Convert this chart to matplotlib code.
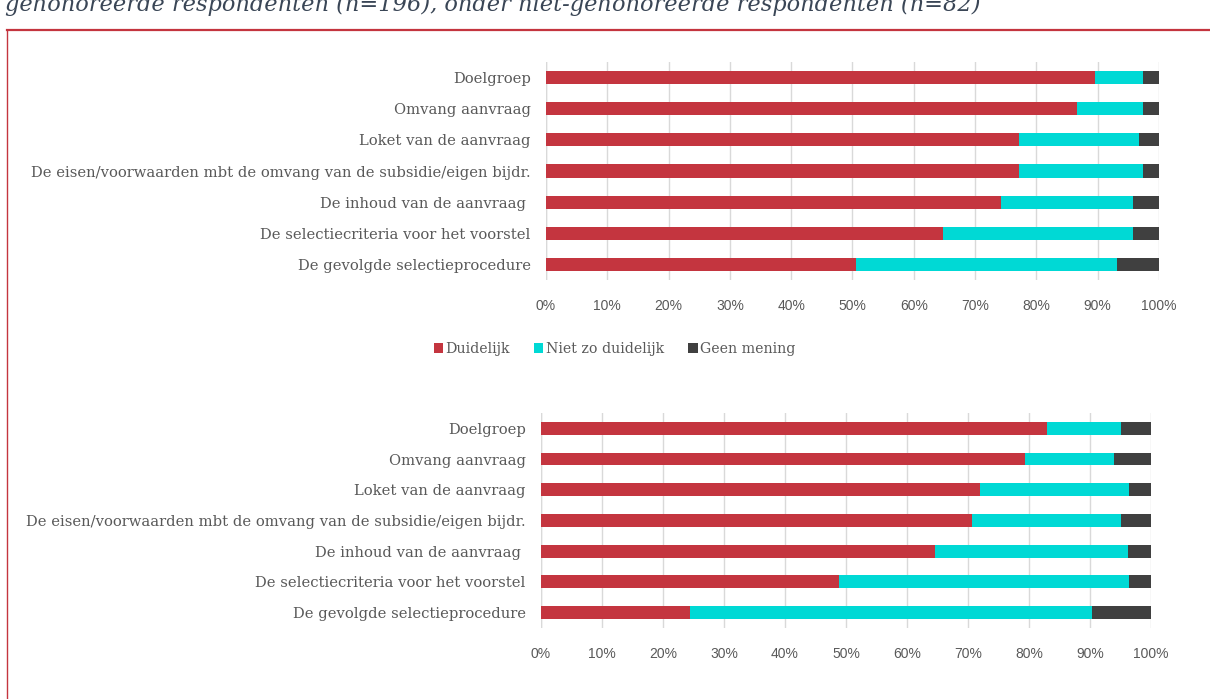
import matplotlib
matplotlib.use("Agg")
import matplotlib.pyplot as plt
from matplotlib.lines import Line2D
from matplotlib.patches import Patch
import numpy as np

categories = [
    "Doelgroep",
    "Omvang aanvraag",
    "Loket van de aanvraag",
    "De eisen/voorwaarden mbt de omvang van de subsidie/eigen bijdr.",
    "De inhoud van de aanvraag ",
    "De selectiecriteria voor het voorstel",
    "De gevolgde selectieprocedure",
]
series_names = ["Duidelijk", "Niet zo duidelijk", "Geen mening"]

# top chart: gehonoreerde respondenten (n=196), percentages
top_duidelijk = [89.5, 86.7, 77.2, 77.2, 74.2, 64.8, 50.5]
top_niet = [7.9, 10.7, 19.5, 20.2, 21.6, 31.0, 42.6]
top_geen = [2.6, 2.6, 3.3, 2.6, 4.2, 4.2, 6.9]

# bottom chart: niet-gehonoreerde respondenten (n=82), percentages
bot_duidelijk = [82.9, 79.3, 72.0, 70.7, 64.6, 48.8, 24.4]
bot_niet = [12.2, 14.6, 24.4, 24.4, 31.7, 47.6, 65.9]
bot_geen = [4.9, 6.1, 3.6, 4.9, 3.7, 3.6, 9.7]

colors = ["#C4353F", "#00D9D5", "#404040"]
text_col = "#595959"
serif = "DejaVu Serif"

fig = plt.figure(figsize=(12.10, 6.99), dpi=100)


def draw(ax, data):
    y = np.arange(len(categories))
    left = np.zeros(len(categories))
    for vals, c in zip(data, colors):
        ax.barh(y, vals, left=left, height=0.42, color=c, zorder=3)
        left += np.array(vals)
    ax.set_xlim(0, 100)
    ax.set_ylim(len(categories) - 0.5, -0.5)
    ax.set_xticks(np.arange(0, 101, 10))
    ax.set_xticklabels([f"{t}%" for t in range(0, 101, 10)],
                       family="Liberation Sans", fontsize=10, color=text_col)
    ax.set_yticks(y)
    ax.set_yticklabels(categories, family=serif, fontsize=10.6, color=text_col)
    ax.tick_params(axis="both", length=0, pad=11)
    ax.tick_params(axis="x", pad=14)
    ax.grid(axis="x", color="#D9D9D9", linewidth=1, zorder=0)
    for s in ax.spines.values():
        s.set_visible(False)
    ax.axvline(0, color="#D9D9D9", linewidth=1, zorder=1)


ax1 = fig.add_axes([0.4512, 0.5994, 0.5066, 0.3119])
draw(ax1, [top_duidelijk, top_niet, top_geen])

ax2 = fig.add_axes([0.4471, 0.1016, 0.5041, 0.3076])
draw(ax2, [bot_duidelijk, bot_niet, bot_geen])

handles = [Patch(facecolor=c, edgecolor="none") for c in colors]
fig.legend(handles, series_names, loc="center", bbox_to_anchor=(0.508, 1 - 349 / 699),
           ncol=3, frameon=False, handlelength=0.65, handleheight=0.65,
           handletextpad=0.2, columnspacing=1.7,
           prop={"family": serif, "size": 10.2}, labelcolor=text_col)

# header text sits partly above the page edge, as in the source
fig.text(0.004, 1 - 11 / 699,
         "gehonoreerde respondenten (n=196), onder niet-gehonoreerde respondenten (n=82)",
         family=serif, style="italic", fontsize=16.2, color="#3A4656", va="baseline")

red = "#C4353F"
fig.add_artist(Line2D([0.0058, 1.0], [1 - 30 / 699] * 2, color=red, linewidth=1.6))
fig.add_artist(Line2D([0.0058, 0.0058], [0, 1 - 30 / 699], color=red, linewidth=1.0))

fig.savefig("out.png", dpi=100)
